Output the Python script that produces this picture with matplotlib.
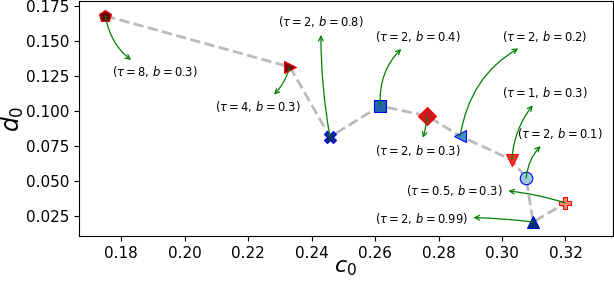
import matplotlib
matplotlib.use("Agg")
import matplotlib.pyplot as plt

# (c0, d0) for each setting, in the order the dashed path visits them
c0 = [0.175, 0.2332, 0.2458, 0.2616, 0.2764, 0.2868, 0.3031, 0.3076, 0.3098, 0.3200]
d0 = [0.1679, 0.1314, 0.0814, 0.1036, 0.0964, 0.0821, 0.0650, 0.0521, 0.0207, 0.0343]
labels = [r'$(\tau=8,\,b=0.3)$', r'$(\tau=4,\,b=0.3)$', r'$(\tau=2,\,b=0.8)$',
          r'$(\tau=2,\,b=0.4)$', r'$(\tau=2,\,b=0.3)$', r'$(\tau=2,\,b=0.2)$',
          r'$(\tau=1,\,b=0.3)$', r'$(\tau=2,\,b=0.1)$', r'$(\tau=2,\,b=0.99)$',
          r'$(\tau=0.5,\,b=0.3)$']
# where each label sits
text_x = [0.1907, 0.2231, 0.2430, 0.2734, 0.2734, 0.3134, 0.3134, 0.3183, 0.2746, 0.2850]
text_y = [0.1279, 0.1029, 0.1636, 0.1529, 0.0716, 0.1529, 0.1129, 0.0836, 0.0229, 0.0431]

markers = ['p', '>', 'X', 's', 'D', '<', 'v', 'o', '^', 'P']
faces = ['#67000d', '#7a0019', '#08306b', '#2166ac', '#cb181d',
         '#4292c6', '#ef3b2c', '#9ecae1', '#08306b', '#fc8d79']
edges = ['red', 'red', 'blue', 'blue', 'red', 'blue', 'red', 'blue', 'blue', 'red']
rads = [-0.3, 0.2, 0.05, 0.3, 0.1, 0.3, 0.2, 0.3, -0.05, -0.1]

fig = plt.figure(figsize=(6.14, 2.82), dpi=100)
ax = fig.add_axes([0.129, 0.162, 0.869, 0.833])

ax.plot(c0, d0, '--', color='#bbbbbb', lw=2, zorder=1)

for i in range(len(c0)):
    ax.plot(c0[i], d0[i], marker=markers[i], ms=9, mfc=faces[i], mec=edges[i],
            mew=0.8, ls='none', zorder=3)
    ax.annotate(labels[i], xy=(c0[i], d0[i]), xytext=(text_x[i], text_y[i]),
                ha='center', va='center', fontsize=8.3,
                arrowprops=dict(arrowstyle='<-', color='green', lw=0.9,
                                connectionstyle='arc3,rad=%s' % rads[i],
                                shrinkB=0))

ax.set_xlim(0.1668, 0.3349)
ax.set_ylim(0.0105, 0.1782)
ax.set_xticks([0.18, 0.20, 0.22, 0.24, 0.26, 0.28, 0.30, 0.32])
ax.set_yticks([0.025, 0.050, 0.075, 0.100, 0.125, 0.150, 0.175])
ax.tick_params(labelsize=11)
ax.set_xlabel(r'$c_0$', fontsize=16, labelpad=-2)
ax.set_ylabel(r'$d_0$', fontsize=17, labelpad=0)

fig.savefig('out.png', dpi=100)
